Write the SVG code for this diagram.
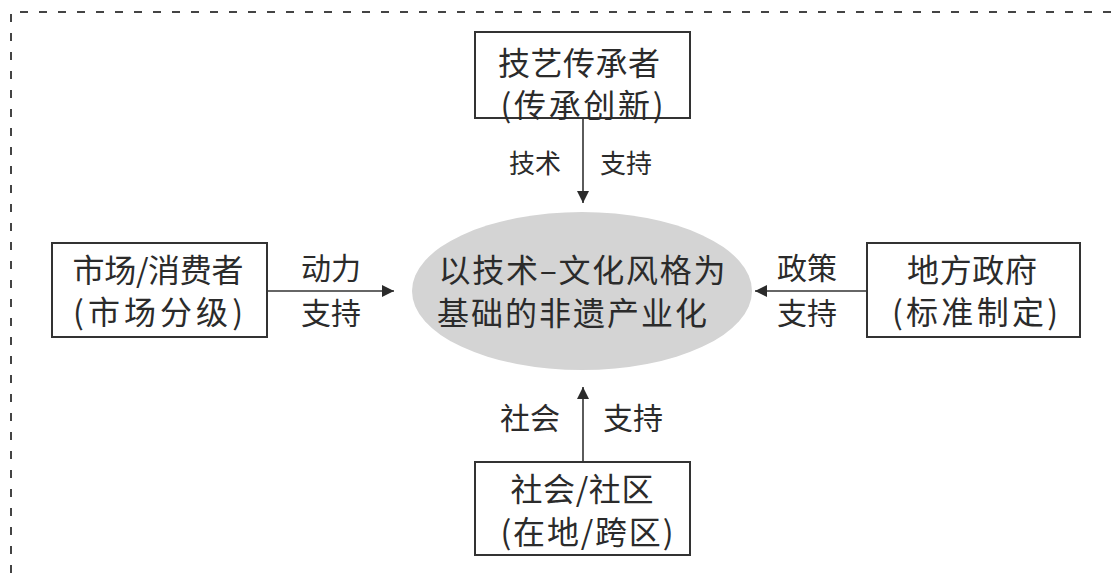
<svg xmlns="http://www.w3.org/2000/svg" width="1119" height="573" viewBox="0 0 1119 573">
<style>
text{font-family:"Noto Sans CJK SC","Noto Sans",sans-serif;fill:#2b2b2b;text-anchor:middle}
.box{fill:#fff;stroke:#333;stroke-width:2}
.t{font-size:32px}
.l{font-size:30px}
.c{stroke:#333;stroke-width:1.6;fill:none}
</style>
<defs>
<marker id="ah" viewBox="0 0 12 12" refX="12" refY="6" markerWidth="12" markerHeight="12" markerUnits="userSpaceOnUse" orient="auto">
<path d="M0,0 L12,6 L0,12 Z" fill="#2b2b2b"/>
</marker>
</defs>
<path d="M11 573 V12 H1119" fill="none" stroke="#444" stroke-width="2" stroke-dasharray="8 11"/>
<g id="connectors">
<line class="c" x1="583" y1="118" x2="583" y2="203" marker-end="url(#ah)"/>
<line class="c" x1="267" y1="291" x2="394" y2="291" marker-end="url(#ah)"/>
<line class="c" x1="867" y1="291" x2="755" y2="291" marker-end="url(#ah)"/>
<line class="c" x1="583" y1="462" x2="583" y2="387" marker-end="url(#ah)"/>
<text style="font-size:26px" x="535" y="173">技术</text>
<text style="font-size:26px" x="626" y="173">支持</text>
<text class="l" x="331" y="279">动力</text>
<text class="l" x="331" y="324">支持</text>
<text class="l" x="807" y="279">政策</text>
<text class="l" x="807" y="324">支持</text>
<text class="l" x="530" y="429">社会</text>
<text class="l" x="633" y="429">支持</text>
</g>
<g id="center">
<ellipse cx="582" cy="291" rx="170" ry="79" fill="#d4d4d4"/>
<text class="t" x="582" y="282" textLength="287" lengthAdjust="spacing">以技术–文化风格为</text>
<text class="t" x="572" y="325" textLength="270" lengthAdjust="spacing">基础的非遗产业化</text>
</g>
<g id="top">
<rect class="box" x="475" y="32" width="215" height="86"/>
<text class="t" x="579" y="75" textLength="162" lengthAdjust="spacing">技艺传承者</text>
<text class="t" x="582" y="117" textLength="163" lengthAdjust="spacing">(传承创新)</text>
</g>
<g id="left">
<rect class="box" x="52" y="243" width="215" height="94"/>
<text class="t" x="158" y="282" textLength="171" lengthAdjust="spacing">市场/消费者</text>
<text class="t" x="158" y="324" textLength="170" lengthAdjust="spacing">(市场分级)</text>
</g>
<g id="right">
<rect class="box" x="867" y="243" width="213" height="94"/>
<text class="t" x="972" y="282" textLength="130" lengthAdjust="spacing">地方政府</text>
<text class="t" x="975" y="324" textLength="166" lengthAdjust="spacing">(标准制定)</text>
</g>
<g id="bottom">
<rect class="box" x="475" y="462" width="215" height="93"/>
<text class="t" x="582" y="501" textLength="143" lengthAdjust="spacing">社会/社区</text>
<text class="t" x="587" y="544" textLength="173" lengthAdjust="spacing">(在地/跨区)</text>
</g>
</svg>
